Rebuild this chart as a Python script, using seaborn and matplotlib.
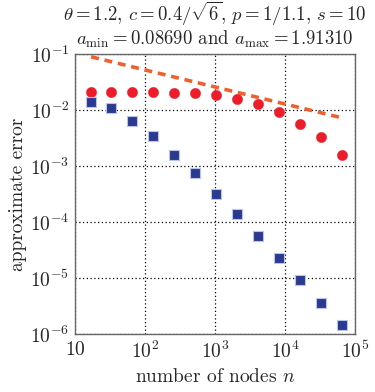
import numpy as np
import pandas as pd
import seaborn as sns
import matplotlib
matplotlib.use("Agg")
import matplotlib.pyplot as plt

# Data
nodes = [17, 33, 65, 129, 257, 513, 1025, 2049, 4097, 8193, 16385, 32769, 65537]
err_circle = [0.0212, 0.0212, 0.0212, 0.0212, 0.0204, 0.0199, 0.0185, 0.0159,
              0.0127, 0.0091, 0.00556, 0.00326, 0.00158]
err_square = [0.01406, 0.01072, 0.00628, 0.00339, 0.00157, 7.5e-4, 3.2e-4,
              1.373e-4, 5.62e-5, 2.30e-5, 9.21e-6, 3.62e-6, 1.47e-6]
ref_n = [17, 61000]
ref_err = [0.0895, 0.0074]
x_ticks = [10, 100, 1000, 10000, 100000]
x_ticklabels = ["$10$", "$10^{2}$", "$10^{3}$", "$10^{4}$", "$10^{5}$"]
y_ticks = [1e-6, 1e-5, 1e-4, 1e-3, 1e-2, 1e-1]
y_ticklabels = ["$10^{-6}$", "$10^{-5}$", "$10^{-4}$", "$10^{-3}$", "$10^{-2}$", "$10^{-1}$"]

sns.set_style("white")
plt.rcParams["font.family"] = ["cmr10", "DejaVu Serif"]
plt.rcParams["mathtext.fontset"] = "cm"
plt.rcParams["axes.unicode_minus"] = False

df_c = pd.DataFrame({"n": nodes, "err": err_circle})
df_s = pd.DataFrame({"n": nodes, "err": err_square})
df_r = pd.DataFrame({"n": ref_n, "err": ref_err})

fs = 14
fig = plt.figure(figsize=(3.75, 3.92), dpi=100)
ax = fig.add_axes([0.2, 0.148, 0.7467, 0.714])

sns.lineplot(data=df_r, x="n", y="err", ax=ax, color="#f0602e", lw=2.6,
             linestyle=(0, (2.2, 1.6)), zorder=3)
sns.scatterplot(data=df_c, x="n", y="err", ax=ax, marker="o", s=55,
                color="#ec1c2a", edgecolor="#ec1c2a", linewidth=0.3, zorder=4)
sns.scatterplot(data=df_s, x="n", y="err", ax=ax, marker="s", s=50,
                color="#2b3990", edgecolor="#b8c4e8", linewidth=0.8, zorder=4)

ax.set_xscale("log")
ax.set_yscale("log")
ax.set_xlim(10, 1e5)
ax.set_ylim(1e-6, 1e-1)
ax.set_xticks(x_ticks)
ax.set_xticklabels(x_ticklabels, fontsize=fs)
ax.set_yticks(y_ticks)
ax.set_yticklabels(y_ticklabels, fontsize=fs)
ax.minorticks_off()
ax.tick_params(axis="x", length=0, pad=5)
ax.tick_params(axis="y", length=0, pad=4)

ax.grid(True, which="major", color="black", linestyle=(0, (1, 2)), linewidth=0.9)
for sp in ax.spines.values():
    sp.set_color("#666666")
    sp.set_linewidth(1.0)

ax.set_xlabel("number of nodes $n$", fontsize=fs, labelpad=4)
ax.set_ylabel("approximate error", fontsize=fs, labelpad=2)
ax.set_title("$\\theta = 1.2$, $c = 0.4/\\sqrt{6}$, $p = 1/1.1$, $s = 10$\n"
             "$a_{\\min} = 0.08690$ and $a_{\\max} = 1.91310$",
             fontsize=13.5, pad=7, linespacing=1.05)

fig.savefig("out.png", dpi=100)
